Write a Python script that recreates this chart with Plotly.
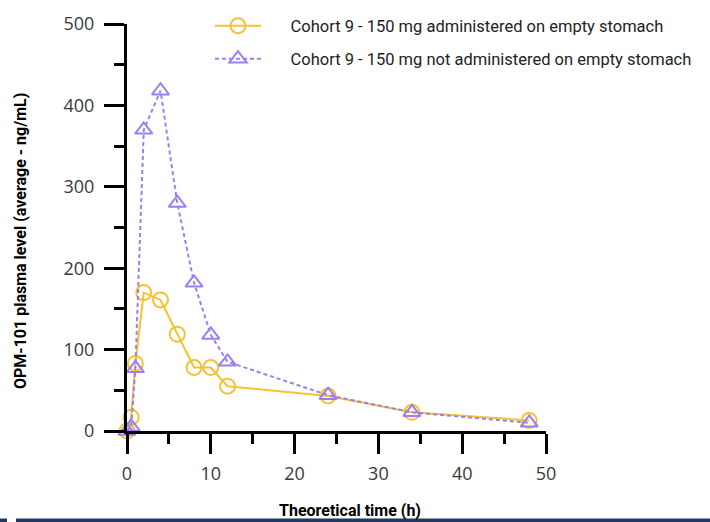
import plotly.graph_objects as go

time_h = [0, 0.5, 1, 2, 4, 6, 8, 10, 12, 24, 34, 48]
fasted = [0, 17, 83, 170, 161, 119, 78, 78, 55, 43, 23, 13]
fed = [0, 5, 77, 370, 418, 280, 182, 118, 85, 44, 23, 10]

name_fasted = "Cohort 9 - 150 mg administered on empty stomach"
name_fed = "Cohort 9 - 150 mg not administered on empty stomach"
x_title = "Theoretical time (h)"
y_title = "OPM-101 plasma level (average - ng/mL)"

orange = "#F6C232"
purple = "#9D7EF2"

W, H = 710, 522
l, r, t, b = 127, 164, 24, 91
pw, ph = W - l - r, H - t - b


def px(xp):
    return (xp - l) / pw


def py(yp):
    return (H - b - yp) / ph


pad = "&nbsp;" * 6

fig = go.Figure()
fig.add_trace(go.Scatter(
    x=time_h, y=fasted, name=pad + name_fasted, mode="lines+markers",
    line=dict(color=orange, width=2),
    marker=dict(symbol="circle-open", size=15, color=orange, line=dict(width=2)),
    cliponaxis=False, legend="legend",
))
fig.add_trace(go.Scatter(
    x=time_h, y=fed, name=pad + name_fed, mode="lines+markers",
    line=dict(color=purple, width=2, dash="4px,3px"),
    marker=dict(symbol="triangle-up-open", size=15, color=purple, line=dict(width=2)),
    cliponaxis=False, legend="legend2",
))

tickfont = dict(family="Open Sans, DejaVu Sans, sans-serif", size=18, color="#3a3a3a")
legfont = dict(family="Roboto, sans-serif", size=16.5, color="#222222")
titlefont = dict(family="Roboto, sans-serif", size=16, color="black")

axis_common = dict(
    showgrid=False, zeroline=False, automargin=False,
    showline=True, linecolor="black", linewidth=3,
    ticks="outside", ticklen=20, tickwidth=2.5, tickcolor="black",
    tickfont=tickfont,
)

fig.update_layout(
    width=W, height=H,
    margin=dict(l=l, r=r, t=t, b=b, autoexpand=False),
    paper_bgcolor="white", plot_bgcolor="white",
    showlegend=True,
    legend=dict(x=px(210), y=py(26), xanchor="left", yanchor="middle", itemwidth=46,
                font=legfont, bgcolor="rgba(0,0,0,0)"),
    legend2=dict(x=px(210), y=py(59), xanchor="left", yanchor="middle", itemwidth=46,
                 font=legfont, bgcolor="rgba(0,0,0,0)"),
    xaxis=dict(range=[0, 50], dtick=10, tick0=0, ticklabelstandoff=4,
               minor=dict(dtick=5, ticks="outside", ticklen=10, tickwidth=2.5, tickcolor="black"),
               **axis_common),
    yaxis=dict(range=[0, 500], dtick=100, tick0=0, ticklabelstandoff=6,
               minor=dict(dtick=50, ticks="outside", ticklen=10, tickwidth=2.5, tickcolor="black"),
               **axis_common),
    annotations=[
        dict(text="<b>" + x_title + "</b>", x=px(350), y=py(510), xref="paper", yref="paper",
             xanchor="center", yanchor="middle", showarrow=False, font=titlefont),
        dict(text="<b>" + y_title + "</b>", x=px(20), y=py(241), xref="paper", yref="paper",
             xanchor="center", yanchor="middle", showarrow=False, textangle=-90, font=titlefont),
    ],
    shapes=[
        dict(type="rect", xref="paper", yref="paper", x0=px(0), x1=px(7), y0=py(522), y1=py(518.5),
             line=dict(width=0), fillcolor="#1F3864"),
        dict(type="rect", xref="paper", yref="paper", x0=px(16), x1=px(710), y0=py(522), y1=py(518.5),
             line=dict(width=0), fillcolor="#1F3864"),
    ],
)

fig.write_html("out.html", config={"displayModeBar": False},
               post_script="document.body.style.margin='0';")
